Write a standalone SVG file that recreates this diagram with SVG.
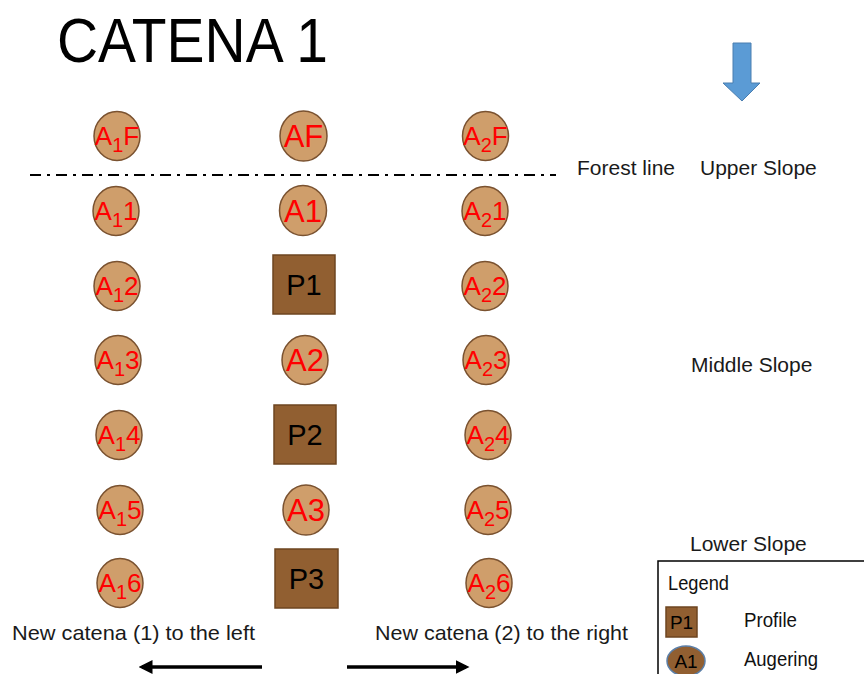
<svg xmlns="http://www.w3.org/2000/svg" width="864" height="674" viewBox="0 0 864 674">
  <defs>
    <style>
      .aug { fill: #CF9E6B; stroke: #7A5230; stroke-width: 1.5; }
      .prof { fill: #915F31; stroke: #6E4520; stroke-width: 1.5; }
      .side { font-family: "Liberation Sans", Arial, sans-serif; font-size: 26px; fill: #FF0000; text-anchor: middle; }
      .sub { font-size: 20px; }
      .mid { font-family: "Liberation Sans", Arial, sans-serif; font-size: 31px; fill: #FF0000; text-anchor: middle; }
      .ptxt { font-family: "Liberation Sans", Arial, sans-serif; font-size: 29px; fill: #000000; text-anchor: middle; }
      .lbl { font-family: "Liberation Sans", Arial, sans-serif; font-size: 21px; fill: #1A1A1A; }
      .leg { font-family: "Liberation Sans", Arial, sans-serif; font-size: 21px; fill: #111111; }
    </style>
    <marker id="head" markerWidth="4" markerHeight="4" refX="3" refY="2" orient="auto" markerUnits="strokeWidth">
      <path d="M0,0 L4,2 L0,4 Z" fill="#000000"/>
    </marker>
  </defs>

  <rect width="864" height="674" fill="#FFFFFF"/>

  <!-- title -->
  <text x="57" y="62" font-family="Liberation Sans, Arial, sans-serif" font-size="63" fill="#000000" textLength="271" lengthAdjust="spacingAndGlyphs">CATENA 1</text>

  <!-- slope direction arrow -->
  <polygon points="733,43 751,43 751,83 760,83 742,101 723,83 733,83" fill="#5B9BD5" stroke="#4A7EB0" stroke-width="1"/>

  <!-- side labels -->
  <text class="lbl" x="577" y="175">Forest line</text>
  <text class="lbl" x="700" y="175">Upper Slope</text>
  <text class="lbl" x="691" y="372">Middle Slope</text>
  <text class="lbl" x="690" y="551">Lower Slope</text>
  <text class="lbl" x="12" y="640" textLength="243" lengthAdjust="spacingAndGlyphs">New catena (1) to the left</text>
  <text class="lbl" x="375" y="640" textLength="253" lengthAdjust="spacingAndGlyphs">New catena (2) to the right</text>

  <!-- left column (A1 series) -->
  <g id="A1F"><ellipse class="aug" cx="117" cy="136" rx="23" ry="24.5"/><text class="side" x="117" y="145">A<tspan class="sub" dy="7">1</tspan><tspan dy="-7">F</tspan></text></g>
  <g id="A1-1"><ellipse class="aug" cx="116" cy="211" rx="23" ry="24.5"/><text class="side" x="116" y="220">A<tspan class="sub" dy="7">1</tspan><tspan dy="-7">1</tspan></text></g>
  <g id="A1-2"><ellipse class="aug" cx="117" cy="286" rx="23" ry="24.5"/><text class="side" x="117" y="295">A<tspan class="sub" dy="7">1</tspan><tspan dy="-7">2</tspan></text></g>
  <g id="A1-3"><ellipse class="aug" cx="118" cy="360" rx="23" ry="24.5"/><text class="side" x="118" y="369">A<tspan class="sub" dy="7">1</tspan><tspan dy="-7">3</tspan></text></g>
  <g id="A1-4"><ellipse class="aug" cx="119" cy="435" rx="23" ry="24.5"/><text class="side" x="119" y="444">A<tspan class="sub" dy="7">1</tspan><tspan dy="-7">4</tspan></text></g>
  <g id="A1-5"><ellipse class="aug" cx="120" cy="510" rx="23" ry="24.5"/><text class="side" x="120" y="519">A<tspan class="sub" dy="7">1</tspan><tspan dy="-7">5</tspan></text></g>
  <g id="A1-6"><ellipse class="aug" cx="120" cy="583" rx="23" ry="24.5"/><text class="side" x="120" y="592">A<tspan class="sub" dy="7">1</tspan><tspan dy="-7">6</tspan></text></g>

  <!-- middle column (main catena) -->
  <g id="AF"><ellipse class="aug" cx="303.5" cy="136" rx="23.5" ry="25"/><text class="mid" x="303.5" y="147">AF</text></g>
  <g id="A1"><ellipse class="aug" cx="303" cy="210.5" rx="23.5" ry="25"/><text class="mid" x="303" y="221.5">A1</text></g>
  <g id="P1"><rect class="prof" x="273" y="255" width="62" height="59"/><text class="ptxt" x="304" y="295">P1</text></g>
  <g id="A2"><ellipse class="aug" cx="305" cy="360" rx="23" ry="24.5"/><text class="mid" x="305" y="371">A2</text></g>
  <g id="P2"><rect class="prof" x="274" y="405" width="62" height="59"/><text class="ptxt" x="305" y="445">P2</text></g>
  <g id="A3"><ellipse class="aug" cx="306" cy="510" rx="23" ry="25"/><text class="mid" x="306" y="521">A3</text></g>
  <g id="P3"><rect class="prof" x="275" y="549" width="63" height="59"/><text class="ptxt" x="306.5" y="589">P3</text></g>

  <!-- right column (A2 series) -->
  <g id="A2F"><ellipse class="aug" cx="485.5" cy="136" rx="23" ry="24.5"/><text class="side" x="485.5" y="145">A<tspan class="sub" dy="7">2</tspan><tspan dy="-7">F</tspan></text></g>
  <g id="A2-1"><ellipse class="aug" cx="485" cy="211" rx="23" ry="24.5"/><text class="side" x="485" y="220">A<tspan class="sub" dy="7">2</tspan><tspan dy="-7">1</tspan></text></g>
  <g id="A2-2"><ellipse class="aug" cx="485" cy="286" rx="23" ry="24.5"/><text class="side" x="485" y="295">A<tspan class="sub" dy="7">2</tspan><tspan dy="-7">2</tspan></text></g>
  <g id="A2-3"><ellipse class="aug" cx="486" cy="360" rx="23" ry="24.5"/><text class="side" x="486" y="369">A<tspan class="sub" dy="7">2</tspan><tspan dy="-7">3</tspan></text></g>
  <g id="A2-4"><ellipse class="aug" cx="488" cy="435" rx="23" ry="24.5"/><text class="side" x="488" y="444">A<tspan class="sub" dy="7">2</tspan><tspan dy="-7">4</tspan></text></g>
  <g id="A2-5"><ellipse class="aug" cx="488" cy="510" rx="23" ry="24.5"/><text class="side" x="488" y="519">A<tspan class="sub" dy="7">2</tspan><tspan dy="-7">5</tspan></text></g>
  <g id="A2-6"><ellipse class="aug" cx="489" cy="583" rx="23" ry="24.5"/><text class="side" x="489" y="592">A<tspan class="sub" dy="7">2</tspan><tspan dy="-7">6</tspan></text></g>

  <!-- forest line and lateral direction arrows -->
  <g id="connectors">
    <line x1="30" y1="175" x2="556" y2="175" stroke="#000000" stroke-width="2" stroke-dasharray="11 6 3 6"/>
    <line x1="262" y1="667" x2="142" y2="667" stroke="#000000" stroke-width="3.5" marker-end="url(#head)"/>
    <line x1="347" y1="667" x2="466" y2="667" stroke="#000000" stroke-width="3.5" marker-end="url(#head)"/>
  </g>

  <!-- legend -->
  <g id="legend">
    <rect x="658" y="561" width="220" height="130" fill="#FFFFFF" stroke="#000000" stroke-width="1.5"/>
    <text class="leg" x="668" y="590" textLength="61" lengthAdjust="spacingAndGlyphs">Legend</text>
    <rect class="prof" x="666" y="607" width="31" height="30"/>
    <text x="681.5" y="629" font-family="Liberation Sans, Arial, sans-serif" font-size="19" fill="#000000" text-anchor="middle">P1</text>
    <text class="leg" x="744" y="627" textLength="53" lengthAdjust="spacingAndGlyphs">Profile</text>
    <ellipse cx="686" cy="661" rx="19" ry="15" fill="#915F31" stroke="#5B7FA8" stroke-width="1.5"/>
    <text x="686" y="668" font-family="Liberation Sans, Arial, sans-serif" font-size="19" fill="#000000" text-anchor="middle">A1</text>
    <text class="leg" x="744" y="666" textLength="74" lengthAdjust="spacingAndGlyphs">Augering</text>
  </g>
</svg>
